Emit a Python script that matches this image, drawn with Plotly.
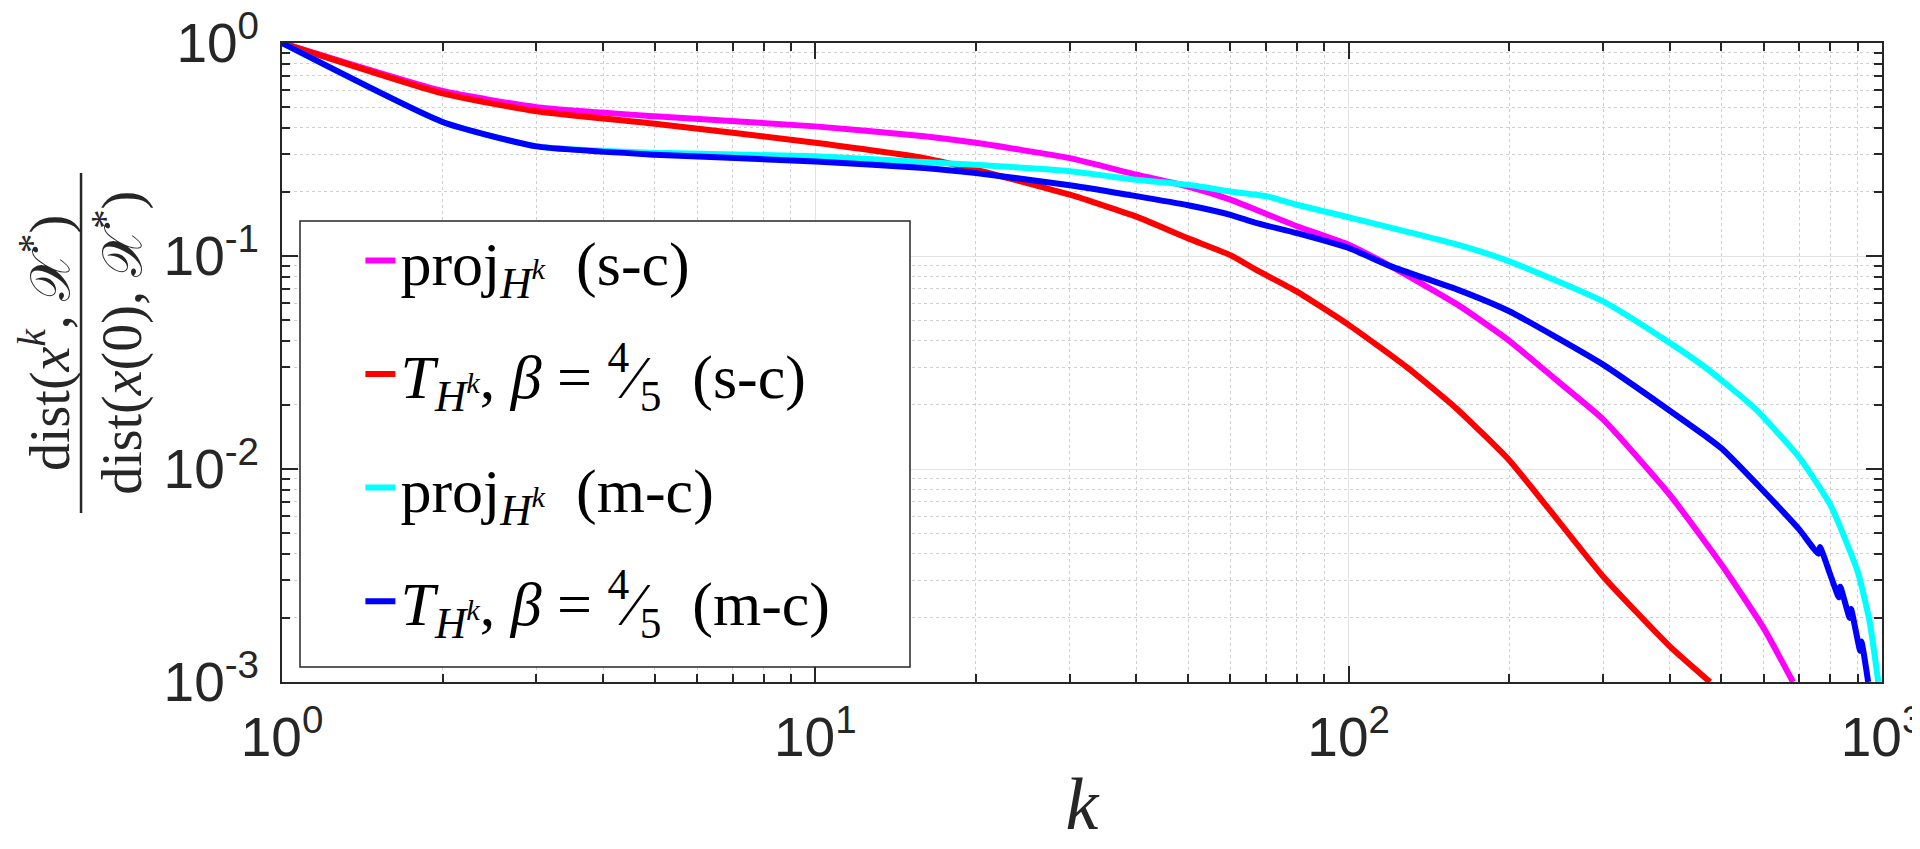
import plotly.graph_objects as go

# ---- data (log-log) ----
k_proj_sc = [1, 2, 3, 5, 10, 16, 20, 30, 40, 50, 60, 67, 80, 100, 120, 160, 200, 245, 300, 400, 500, 600, 681]
y_proj_sc = [1, 0.595, 0.50, 0.453, 0.406, 0.365, 0.34, 0.288, 0.241, 0.212, 0.184, 0.165, 0.138, 0.113, 0.0894,
             0.0591, 0.040, 0.0262, 0.0171, 0.00757, 0.00356, 0.00179, 0.001]

k_T_sc = [1, 2, 3, 5, 10, 16, 20, 30, 40, 50, 60, 67, 80, 100, 128, 159, 200, 235, 300, 400, 476]
y_T_sc = [1, 0.58, 0.478, 0.418, 0.34, 0.288, 0.254, 0.194, 0.153, 0.121, 0.101, 0.0862, 0.068, 0.0475, 0.0303,
          0.0193, 0.011, 0.0067, 0.00313, 0.00147, 0.001]

k_proj_mc = [1, 2, 3, 5, 10, 16, 20, 30, 40, 50, 60, 70, 80, 100, 160, 200, 300, 400, 468, 577, 700, 800, 900, 948, 984]
y_proj_mc = [1, 0.426, 0.327, 0.305, 0.294, 0.276, 0.268, 0.25, 0.228, 0.216, 0.201, 0.191, 0.174, 0.152, 0.113,
             0.0944, 0.0612, 0.0391, 0.0298, 0.0193, 0.0113, 0.0068, 0.00331, 0.00192, 0.001]

k_T_mc = [1, 2, 3, 5, 10, 16, 20, 30, 40, 50, 60, 67, 80, 100, 120, 160, 200, 300, 394, 468, 500, 600, 700,
          760, 765, 800, 830, 835, 870, 875, 910, 915, 942]
y_T_mc = [1, 0.426, 0.327, 0.299, 0.278, 0.259, 0.245, 0.215, 0.191, 0.173, 0.156, 0.143, 0.128, 0.109, 0.0894,
          0.0695, 0.055, 0.0309, 0.0193, 0.0142, 0.0125, 0.00786, 0.00519, 0.0040, 0.0043, 0.00319, 0.0025, 0.0028,
          0.0020, 0.0022, 0.0014, 0.00155, 0.001]

series_names = [
    "proj<sub><i>H</i><sup><i>k</i></sup></sub>  (s-c)",
    "<i>T</i><sub><i>H</i><sup><i>k</i></sup></sub>, <i>β</i> = <sup>4</sup>⁄<sub>5</sub>  (s-c)",
    "proj<sub><i>H</i><sup><i>k</i></sup></sub>  (m-c)",
    "<i>T</i><sub><i>H</i><sup><i>k</i></sup></sub>, <i>β</i> = <sup>4</sup>⁄<sub>5</sub>  (m-c)",
]
series_colors = ["#FF00FF", "#FF0000", "#00FFFF", "#0000FF"]

x_tick_vals = [1, 10, 100, 1000]
x_tick_text = ["10<sup>0</sup>", "10<sup>1</sup>", "10<sup>2</sup>", "10<sup>3</sup>"]
y_tick_vals = [0.001, 0.01, 0.1, 1]
y_tick_text = ["10<sup>-3</sup>", "10<sup>-2</sup>", "10<sup>-1</sup>", "10<sup>0</sup>"]

minor_x = [m * d for d in (1, 10, 100) for m in range(2, 10)]
minor_y = [m * d for d in (0.001, 0.01, 0.1) for m in range(2, 10)]

fig = go.Figure()
all_k = [k_proj_sc, k_T_sc, k_proj_mc, k_T_mc]
all_y = [y_proj_sc, y_T_sc, y_proj_mc, y_T_mc]
for i, (kk, yy) in enumerate(zip(all_k, all_y)):
    fig.add_trace(go.Scatter(
        x=kk, y=yy, mode="lines", name=series_names[i],
        line=dict(color=series_colors[i], width=6, shape="spline", smoothing=0.5),
        legendgroup=f"g{i}",
    ))

axis_common = dict(
    type="log",
    showline=True, linecolor="#262626", linewidth=2, mirror="allticks",
    ticks="inside", ticklen=16, tickwidth=1.5, tickcolor="#262626",
    tickmode="array", ticklabeloverflow="allow",
    tickfont=dict(family="Liberation Sans, Arial, sans-serif", size=55, color="#262626"),
    showgrid=True, gridcolor="#e3e3e3", gridwidth=1.2,
    zeroline=False,
)

fig.update_xaxes(
    **axis_common,
    range=[0, 3],
    tickvals=x_tick_vals, ticktext=x_tick_text,
    ticklabelstandoff=6,
    minor=dict(tickmode="array", tickvals=minor_x, ticks="inside", ticklen=8, tickcolor="#262626",
               showgrid=True, gridcolor="#cfcfcf", griddash="dot", gridwidth=1),
    title=dict(text="<i>k</i>", font=dict(family="Liberation Serif, serif", size=74, color="#262626"), standoff=10),
    automargin=False,
)
fig.update_yaxes(
    **axis_common,
    range=[-3, 0],
    tickvals=y_tick_vals, ticktext=y_tick_text,
    ticklabelstandoff=10,
    minor=dict(tickmode="array", tickvals=minor_y, ticks="inside", ticklen=8, tickcolor="#262626",
               showgrid=True, gridcolor="#cfcfcf", griddash="dot", gridwidth=1),
    automargin=False,
)

# legend box (white with black border) and legend itself
fig.add_shape(type="rect", xref="paper", yref="paper",
              x0=0.01125, x1=0.3925, y0=0.0235, y1=0.7214,
              line=dict(color="#262626", width=1.5), fillcolor="white", layer="above")

fig.update_layout(
    width=1920, height=849,
    margin=dict(l=274, r=46, t=35, b=175),
    paper_bgcolor="white", plot_bgcolor="white",
    showlegend=True,
    legend=dict(
        x=0.049, y=0.733, xanchor="left", yanchor="top",
        bgcolor="rgba(0,0,0,0)", borderwidth=0,
        font=dict(family="Liberation Serif, serif", size=62, color="black"),
        tracegroupgap=30, itemwidth=30,
    ),
)

# y-axis title as a stacked fraction
fig.add_annotation(xref="paper", yref="paper", x=-0.1475, y=0.5305, textangle=-90,
                   text="dist(<i>x</i><sup><i>k</i></sup>, 𝒳<sup>*</sup>)", showarrow=False,
                   xanchor="center", yanchor="middle",
                   font=dict(family="Liberation Serif, DejaVu Serif, serif", size=56, color="#262626"))
fig.add_annotation(xref="paper", yref="paper", x=-0.102, y=0.5305, textangle=-90,
                   text="dist(<i>x</i>(0), 𝒳<sup>*</sup>)", showarrow=False,
                   xanchor="center", yanchor="middle",
                   font=dict(family="Liberation Serif, DejaVu Serif, serif", size=56, color="#262626"))
fig.add_shape(type="line", xref="paper", yref="paper", x0=-0.1256, x1=-0.1256, y0=0.2645, y1=0.7966,
              line=dict(color="#262626", width=2.5))

fig.write_html("out.html")
